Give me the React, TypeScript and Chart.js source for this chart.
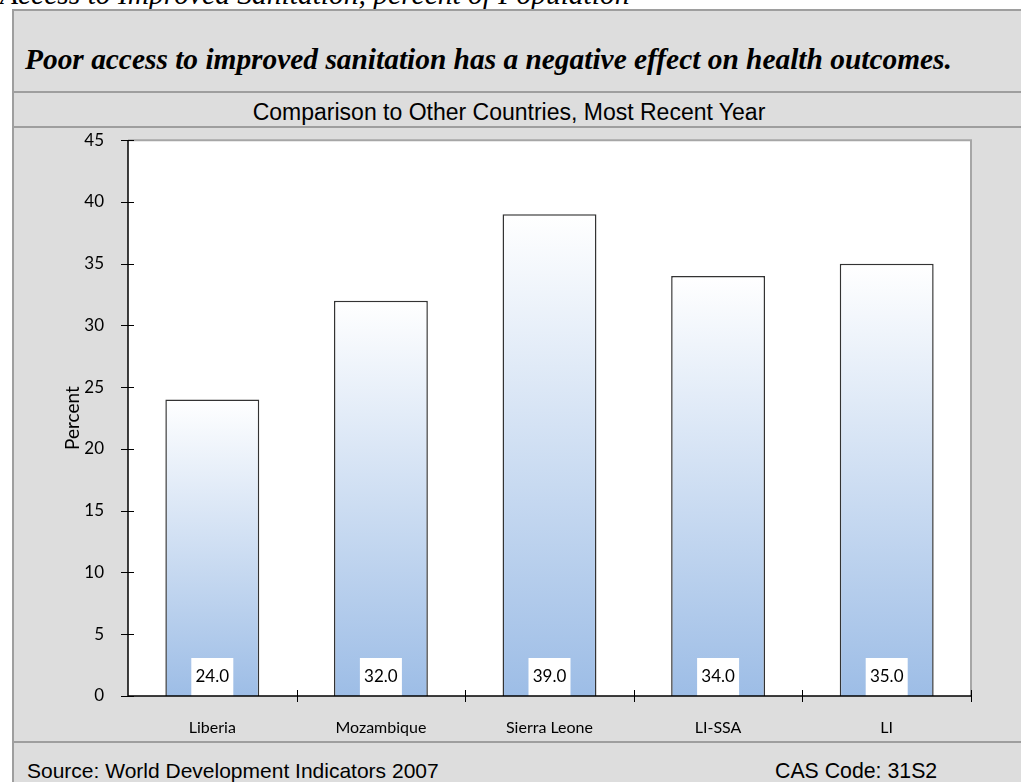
import React, { useEffect, useRef } from "react";
import { Chart, registerables } from "chart.js";

Chart.register(...registerables);

const categories = ["Liberia", "Mozambique", "Sierra Leone", "LI-SSA", "LI"];
const values = [24.0, 32.0, 39.0, 34.0, 35.0];
const yTicks = [0, 5, 10, 15, 20, 25, 30, 35, 40, 45];

const headerText = "Access to Improved Sanitation, percent of Population";
const titleText = "Poor access to improved sanitation has a negative effect on health outcomes.";
const subtitleText = "Comparison to Other Countries, Most Recent Year";
const sourceText = "Source: World Development Indicators 2007";
const codeText = "CAS Code: 31S2";

const tickFont = "Lato, 'DejaVu Sans', sans-serif";

const decorPlugin = {
  id: "decor",
  beforeDraw(chart: any) {
    const { ctx, chartArea } = chart;
    ctx.save();
    ctx.fillStyle = "#ffffff";
    ctx.fillRect(chartArea.left, chartArea.top, chartArea.right - chartArea.left, chartArea.bottom - chartArea.top);
    ctx.strokeStyle = "#a6a6a6";
    ctx.lineWidth = 2;
    ctx.beginPath();
    ctx.moveTo(chartArea.left, chartArea.top);
    ctx.lineTo(chartArea.right, chartArea.top);
    ctx.lineTo(chartArea.right, chartArea.bottom);
    ctx.stroke();
    ctx.restore();
  },
  afterDatasetsDraw(chart: any) {
    const { ctx, chartArea } = chart;
    const ys = chart.scales.y;
    const xs = chart.scales.x;
    ctx.save();
    const meta = chart.getDatasetMeta(0);
    meta.data.forEach((bar: any, i: number) => {
      const base = ys.getPixelForValue(0);
      const w = 42;
      const h = 38;
      ctx.fillStyle = "#ffffff";
      ctx.fillRect(bar.x - w / 2, base - h, w, h);
      ctx.fillStyle = "#000000";
      ctx.font = `17px ${tickFont}`;
      ctx.textAlign = "center";
      ctx.textBaseline = "middle";
      ctx.fillText(values[i].toFixed(1), bar.x, base - 19);
    });
    ctx.strokeStyle = "#000000";
    ctx.lineWidth = 1.5;
    ctx.beginPath();
    ctx.moveTo(chartArea.left, chartArea.top);
    ctx.lineTo(chartArea.left, chartArea.bottom);
    ctx.lineTo(chartArea.right, chartArea.bottom);
    ctx.stroke();
    ctx.lineWidth = 1;
    ctx.beginPath();
    yTicks.forEach((v) => {
      const y = Math.round(ys.getPixelForValue(v)) + 0.5;
      ctx.moveTo(chartArea.left - 7, y);
      ctx.lineTo(chartArea.left + 6, y);
    });
    const step = xs.getPixelForValue(1) - xs.getPixelForValue(0);
    for (let i = 1; i <= categories.length; i++) {
      const x = Math.round(xs.getPixelForValue(i - 1) + step / 2) + 0.5;
      ctx.moveTo(x, chartArea.bottom - 6);
      ctx.lineTo(x, chartArea.bottom + 6);
    }
    ctx.stroke();
    ctx.restore();
  },
};

const textBase: React.CSSProperties = {
  position: "absolute",
  whiteSpace: "nowrap",
  color: "#000",
};

export default function App() {
  const canvasRef = useRef<HTMLCanvasElement | null>(null);

  useEffect(() => {
    if (!canvasRef.current) return;
    const chart = new Chart(canvasRef.current, {
      type: "bar",
      data: {
        labels: categories,
        datasets: [
          {
            data: values,
            backgroundColor: (context: any) => {
              const chart = context.chart;
              const ys = chart.scales?.y;
              if (!chart.chartArea || !ys || context.dataIndex === undefined) return "#c8d9ef";
              const top = ys.getPixelForValue(values[context.dataIndex]);
              const base = ys.getPixelForValue(0);
              const g = chart.ctx.createLinearGradient(0, top, 0, base);
              g.addColorStop(0, "#ffffff");
              g.addColorStop(1, "#9dbde6");
              return g;
            },
            borderColor: "#333333",
            borderWidth: 1.5,
            borderSkipped: "bottom",
            categoryPercentage: 1,
            barPercentage: 0.557,
          },
        ],
      },
      options: {
        animation: false,
        responsive: false,
        maintainAspectRatio: false,
        devicePixelRatio: 1,
        layout: { padding: { left: 0, right: 48, top: 0, bottom: 0 } },
        plugins: {
          legend: { display: false },
          tooltip: { enabled: false },
          title: { display: false },
        },
        scales: {
          x: {
            offset: true,
            grid: { display: false },
            border: { display: false },
            ticks: {
              color: "#000000",
              font: { family: tickFont, size: 16 },
              padding: 14,
              maxRotation: 0,
            },
            afterFit: (scale: any) => {
              scale.height = 44;
            },
          },
          y: {
            min: 0,
            max: 45,
            grid: { display: false },
            border: { display: false },
            ticks: {
              stepSize: 5,
              color: "#000000",
              font: { family: tickFont, size: 17 },
              padding: 16,
            },
            title: {
              display: true,
              text: "Percent",
              color: "#000000",
              font: { family: tickFont, size: 19 },
              padding: { top: 47, bottom: 0 },
            },
            afterFit: (scale: any) => {
              scale.width = 114;
            },
          },
        },
      },
      plugins: [decorPlugin],
    });
    return () => chart.destroy();
  }, []);

  return (
    <div
      style={{
        position: "absolute",
        left: 0,
        top: 0,
        width: 1021,
        height: 782,
        overflow: "hidden",
        background: "#ffffff",
      }}
    >
      <div
        style={{
          ...textBase,
          left: 0,
          top: -21,
          fontFamily: "'Liberation Serif', 'Times New Roman', serif",
          fontStyle: "italic",
          fontSize: 29.5,
          lineHeight: "30px",
        }}
      >
        {headerText}
      </div>
      <div
        style={{
          position: "absolute",
          left: 12,
          top: 9,
          width: 1040,
          height: 800,
          boxSizing: "border-box",
          border: "2px solid #9e9e9e",
          background: "#dddddd",
        }}
      />
      <div
        style={{
          ...textBase,
          left: 25,
          top: 44,
          fontFamily: "'Liberation Serif', 'Times New Roman', serif",
          fontStyle: "italic",
          fontWeight: "bold",
          fontSize: 29.4,
          lineHeight: "30px",
        }}
      >
        {titleText}
      </div>
      <div style={{ position: "absolute", left: 14, top: 91, width: 1010, height: 2, background: "#9e9e9e" }} />
      <div
        style={{
          ...textBase,
          left: 14,
          top: 98,
          width: 990,
          textAlign: "center",
          fontFamily: "'Liberation Sans', Arial, sans-serif",
          fontSize: 23,
          lineHeight: "28px",
        }}
      >
        {subtitleText}
      </div>
      <div style={{ position: "absolute", left: 14, top: 126, width: 1010, height: 2, background: "#9e9e9e" }} />
      <canvas
        ref={canvasRef}
        width={1005}
        height={626}
        style={{ position: "absolute", left: 14, top: 114, width: 1005, height: 626 }}
      />
      <div style={{ position: "absolute", left: 14, top: 741, width: 1010, height: 2, background: "#9e9e9e" }} />
      <div
        style={{
          ...textBase,
          left: 27,
          top: 759,
          fontFamily: "'Liberation Sans', Arial, sans-serif",
          fontSize: 21,
          lineHeight: "24px",
        }}
      >
        {sourceText}
      </div>
      <div
        style={{
          ...textBase,
          left: 775,
          top: 759,
          fontFamily: "'Liberation Sans', Arial, sans-serif",
          fontSize: 21.3,
          lineHeight: "24px",
        }}
      >
        {codeText}
      </div>
    </div>
  );
}
